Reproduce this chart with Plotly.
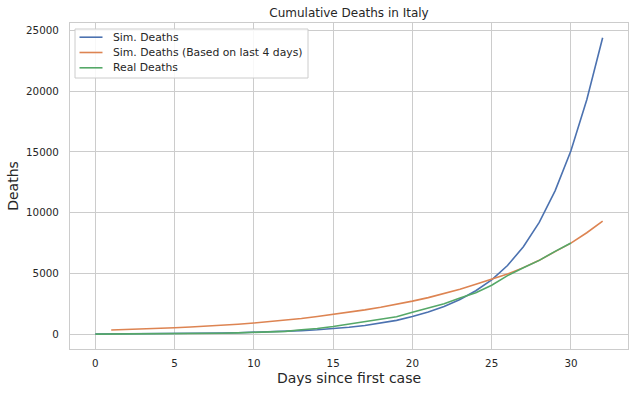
import plotly.graph_objects as go

days_sim = list(range(0, 33))
sim_deaths = [16, 20, 25, 31, 39, 49, 61, 76, 95, 119, 150, 187, 234, 293, 366, 460,
              575, 720, 900, 1140, 1450, 1820, 2280, 2860, 3580, 4470, 5650, 7200,
              9200, 11800, 15100, 19300, 24400]

days_last4 = list(range(1, 33))
sim_deaths_last4 = [350, 385, 425, 475, 530, 590, 655, 730, 820, 920, 1030, 1150, 1290,
                    1450, 1620, 1800, 2000, 2220, 2460, 2720, 3010, 3330, 3700, 4110,
                    4560, 4950, 5480, 6080, 6800, 7500, 8350, 9300]

days_real = list(range(0, 31))
real_deaths = [7, 10, 12, 17, 21, 29, 34, 52, 79, 107, 148, 197, 233, 366, 463, 631,
               827, 1016, 1266, 1441, 1809, 2158, 2503, 2978, 3405, 4032, 4825, 5476,
               6077, 6820, 7503]

series_names = ["Sim. Deaths", "Sim. Deaths (Based on last 4 days)", "Real Deaths"]
series_colors = ["#4c72b0", "#dd8452", "#55a868"]

x_ticks = [0, 5, 10, 15, 20, 25, 30]
y_ticks = [0, 5000, 10000, 15000, 20000, 25000]

FONT = "DejaVu Sans"
TXT = "#262626"
GRID = "#cccccc"
W, H = 634, 394
ML, MR, MT, MB = 70, 6, 23, 45
PW, PH = W - ML - MR, H - MT - MB


def px_x(p):
    return (p - ML) / PW


def px_y(p):
    return (H - MB - p) / PH


fig = go.Figure()
for xs, ys, name, col in zip([days_sim, days_last4, days_real],
                             [sim_deaths, sim_deaths_last4, real_deaths],
                             series_names, series_colors):
    fig.add_trace(go.Scatter(x=xs, y=ys, mode="lines", name=name,
                             line=dict(color=col, width=1.6)))

# manual legend (matplotlib-like compact box)
shapes = [dict(type="rect", xref="paper", yref="paper",
               x0=px_x(75), x1=px_x(308), y0=px_y(78), y1=px_y(29),
               line=dict(color=GRID, width=1), fillcolor="rgba(255,255,255,0.85)",
               layer="above")]
annotations = []
rows = [37.2, 52.5, 67.8]
for name, col, ry in zip(series_names, series_colors, rows):
    shapes.append(dict(type="line", xref="paper", yref="paper",
                       x0=px_x(79.5), x1=px_x(102.5), y0=px_y(ry), y1=px_y(ry),
                       line=dict(color=col, width=1.6), layer="above"))
    annotations.append(dict(xref="paper", yref="paper", x=px_x(110.5), y=px_y(ry),
                            xanchor="left", yanchor="middle", showarrow=False,
                            text=name, font=dict(size=10.8, color=TXT, family=FONT)))

fig.update_layout(
    width=W, height=H,
    margin=dict(l=ML, r=MR, t=MT, b=MB),
    paper_bgcolor="white", plot_bgcolor="white",
    font=dict(family=FONT, color=TXT, size=10.3),
    title=dict(text="Cumulative Deaths in Italy", x=(ML + W - MR) / 2 / W, xanchor="center",
               y=1 - 13 / H, yanchor="middle", font=dict(size=12, color=TXT)),
    showlegend=False,
    shapes=shapes,
    annotations=annotations,
)
fig.update_xaxes(
    range=[-1.6, 33.6], tickvals=x_ticks, ticktext=[str(v) for v in x_ticks],
    showgrid=True, gridcolor=GRID, gridwidth=1, zeroline=False,
    showline=True, linecolor=GRID, linewidth=1.25, mirror=True,
    ticks="outside", ticklen=5, tickcolor="rgba(0,0,0,0)",
    tickfont=dict(size=10.3, color=TXT),
    title=dict(text="Days since first case", font=dict(size=14, color=TXT), standoff=4),
)
fig.update_yaxes(
    range=[-1220, 25620], tickvals=y_ticks, ticktext=[str(v) for v in y_ticks],
    showgrid=True, gridcolor=GRID, gridwidth=1, zeroline=False,
    showline=True, linecolor=GRID, linewidth=1.25, mirror=True,
    ticks="outside", ticklen=8, tickcolor="rgba(0,0,0,0)",
    tickfont=dict(size=10.3, color=TXT),
    title=dict(text="Deaths", font=dict(size=14, color=TXT), standoff=4),
)

fig.write_html("out.html")
